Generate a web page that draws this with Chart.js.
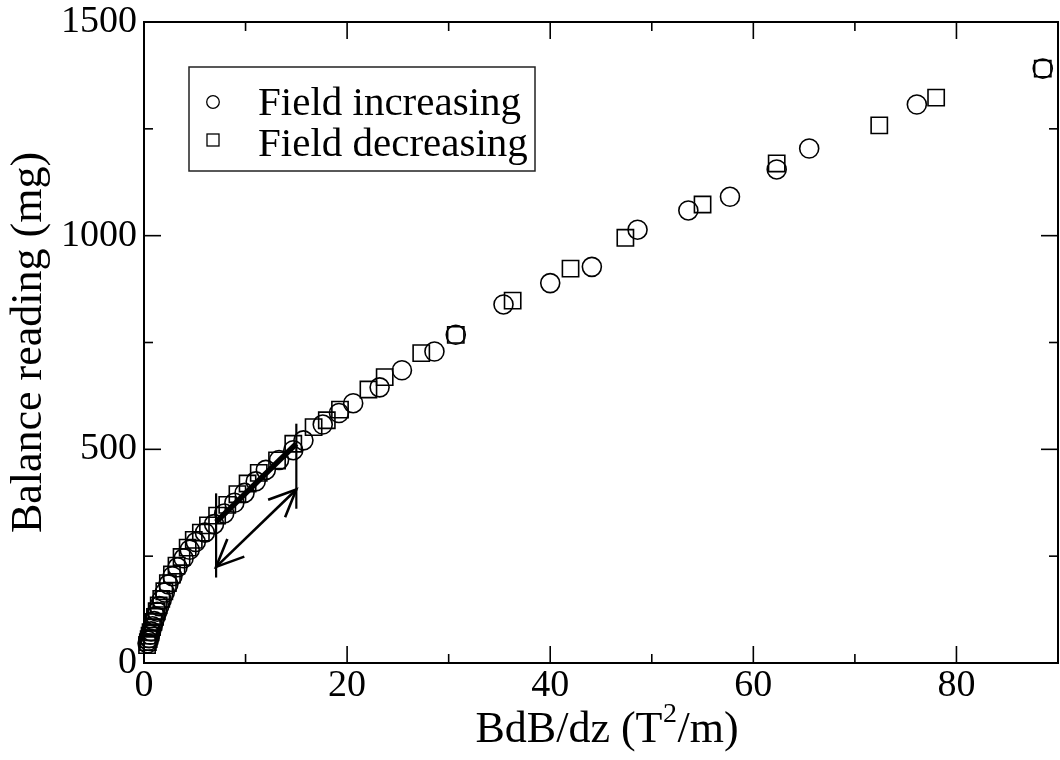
<!DOCTYPE html>
<html><head><meta charset="utf-8">
<script src="https://cdn.jsdelivr.net/npm/chart.js@4"></script>
<style>html,body{margin:0;padding:0;background:#fff}#wrap{width:1060px;height:760px}</style>
</head><body><div id="wrap"><canvas id="c" width="1060" height="760"></canvas></div>
<script>
// Field increasing (circles)
const incX = [0.35,0.42,0.5,0.6,0.7,0.85,1.0,1.15,1.3,1.5,1.75,2.05,2.4,2.8,3.3,3.9,4.5,5.1,6.0,6.9,7.9,8.9,9.9,11.0,12.0,13.3,14.7,15.7,17.6,19.2,20.6,23.2,25.4,28.6,30.7,35.4,40.0,44.1,48.6,53.6,57.7,62.3,65.5,76.1,88.5];
const incY = [46,52,58,66,74,86,98,109,120,133,148,165,184,203,224,245,265,283,305,325,350,375,398,425,452,475,498,521,558,585,608,645,685,729,768,839,889,927,1014,1059,1091,1155,1204,1307,1391];
// Field decreasing (squares)
const decX = [0.3,0.38,0.46,0.55,0.65,0.78,0.92,1.08,1.25,1.45,1.7,2.0,2.35,2.75,3.2,3.7,4.3,4.9,5.6,6.3,7.2,8.2,9.2,10.2,11.3,13.1,14.7,16.7,18.0,19.3,22.1,23.7,27.3,30.7,36.3,42.0,47.4,55.0,62.3,72.4,78.0,88.5];
const decY = [42,49,56,64,72,84,96,108,121,135,150,168,187,207,228,248,270,288,305,322,345,370,395,420,445,474,513,552,568,593,640,669,725,768,848,923,995,1073,1169,1258,1323,1391];
// tick labels
const xTicks = [0,20,40,60,80];
const xMinor = [10,30,50,70];
const yTicks = [0,500,1000,1500];
const yMinor = [250,750,1250];
// annotations
const fitX = [7.1, 15.0], fitY = [330, 513];
const barX = [7.1, 15.0], barLow = [200, 361], barHigh = [397, 560];
const arrX = [7.1, 15.0], arrY = [225, 406];
const legendLabels = ['Field increasing', 'Field decreasing'];
const xTitleParts = ['BdB/dz (T', '2', '/m)'];
const yTitle = 'Balance reading (mg)';

const FONT = "'Liberation Serif', 'Times New Roman', serif";
Chart.defaults.font.family = FONT;
Chart.defaults.color = '#000';

const toPts = (xs, ys) => xs.map((v, i) => ({x: v, y: ys[i]}));

const framePlugin = {
  id: 'frame',
  afterDatasetsDraw(chart) {
    const {ctx, chartArea: a, scales: {x, y}} = chart;
    ctx.save();
    ctx.strokeStyle = '#000';
    ctx.lineCap = 'butt';
    ctx.lineWidth = 1.6;
    const tk = (vals, len) => {
      vals.forEach(v => {
        const px = x.getPixelForValue(v);
        if (px > a.left + 1 && px < a.right - 1) {
          ctx.beginPath(); ctx.moveTo(px, a.bottom); ctx.lineTo(px, a.bottom - len); ctx.stroke();
          ctx.beginPath(); ctx.moveTo(px, a.top); ctx.lineTo(px, a.top + len); ctx.stroke();
        }
      });
    };
    const tky = (vals, len) => {
      vals.forEach(v => {
        const py = y.getPixelForValue(v);
        if (py > a.top + 1 && py < a.bottom - 1) {
          ctx.beginPath(); ctx.moveTo(a.left, py); ctx.lineTo(a.left + len, py); ctx.stroke();
          ctx.beginPath(); ctx.moveTo(a.right, py); ctx.lineTo(a.right - len, py); ctx.stroke();
        }
      });
    };
    tk(xTicks, 17); tk(xMinor, 9);
    tky(yTicks, 17); tky(yMinor, 9);
    ctx.lineWidth = 2;
    ctx.strokeRect(a.left, a.top, a.right - a.left, a.bottom - a.top);

    // fit line
    ctx.lineWidth = 5.5;
    ctx.beginPath();
    ctx.moveTo(x.getPixelForValue(fitX[0]), y.getPixelForValue(fitY[0]));
    ctx.lineTo(x.getPixelForValue(fitX[1]), y.getPixelForValue(fitY[1]));
    ctx.stroke();
    // vertical bars
    ctx.lineWidth = 2.2;
    for (let i = 0; i < barX.length; i++) {
      const px = x.getPixelForValue(barX[i]);
      ctx.beginPath();
      ctx.moveTo(px, y.getPixelForValue(barLow[i]));
      ctx.lineTo(px, y.getPixelForValue(barHigh[i]));
      ctx.stroke();
    }
    // double arrow
    ctx.lineWidth = 2.6;
    const x0 = x.getPixelForValue(arrX[0]), y0 = y.getPixelForValue(arrY[0]);
    const x1 = x.getPixelForValue(arrX[1]), y1 = y.getPixelForValue(arrY[1]);
    ctx.beginPath(); ctx.moveTo(x0, y0); ctx.lineTo(x1, y1); ctx.stroke();
    const head = (tx, ty, fx, fy) => {
      const ang = Math.atan2(fy - ty, fx - tx);
      const L = 30, s = 0.42;
      ctx.beginPath();
      ctx.moveTo(tx + L * Math.cos(ang + s), ty + L * Math.sin(ang + s));
      ctx.lineTo(tx, ty);
      ctx.lineTo(tx + L * Math.cos(ang - s), ty + L * Math.sin(ang - s));
      ctx.stroke();
    };
    head(x0, y0, x1, y1);
    head(x1, y1, x0, y0);

    // legend
    const lx = 189, ly = 67, lw = 346, lh = 104;
    ctx.fillStyle = '#fff';
    ctx.fillRect(lx, ly, lw, lh);
    ctx.lineWidth = 1.5;
    ctx.strokeStyle = '#222';
    ctx.strokeRect(lx, ly, lw, lh);
    ctx.strokeStyle = '#000';
    ctx.lineWidth = 1.3;
    ctx.beginPath(); ctx.arc(213, 102, 6.3, 0, Math.PI * 2); ctx.stroke();
    ctx.strokeRect(207, 134, 12, 12);
    ctx.fillStyle = '#000';
    ctx.font = "41px " + FONT;
    ctx.textBaseline = 'alphabetic';
    ctx.textAlign = 'left';
    ctx.fillText(legendLabels[0], 258, 115);
    ctx.fillText(legendLabels[1], 258, 156);

    // x title with superscript
    const big = "44px " + FONT, small = "28px " + FONT;
    ctx.font = big; const w0 = ctx.measureText(xTitleParts[0]).width, w2 = ctx.measureText(xTitleParts[2]).width;
    ctx.font = small; const w1 = ctx.measureText(xTitleParts[1]).width + 1;
    const cx = (a.left + a.right) / 2 + 6;
    let sx = cx - (w0 + w1 + w2) / 2;
    const base = 742;
    ctx.font = big; ctx.fillText(xTitleParts[0], sx, base);
    ctx.font = small; ctx.fillText(xTitleParts[1], sx + w0 + 0.5, base - 20);
    ctx.font = big; ctx.fillText(xTitleParts[2], sx + w0 + w1, base);
    ctx.restore();
  }
};

new Chart(document.getElementById('c'), {
  type: 'scatter',
  data: {
    datasets: [
      {label: legendLabels[0], data: toPts(incX, incY), pointStyle: 'circle', pointRadius: 9.5,
       borderColor: '#000', backgroundColor: 'rgba(0,0,0,0)', borderWidth: 1.6, pointHoverRadius: 9.5, clip: false},
      {label: legendLabels[1], data: toPts(decX, decY), pointStyle: 'rect', pointRadius: 11.5,
       borderColor: '#000', backgroundColor: 'rgba(0,0,0,0)', borderWidth: 1.6, pointHoverRadius: 11.5, clip: false}
    ]
  },
  options: {
    responsive: false,
    animation: false,
    events: [],
    layout: {autoPadding: false, padding: {top: 22, right: 2, left: 0, bottom: 0}},
    plugins: {legend: {display: false}, tooltip: {enabled: false}},
    scales: {
      x: {
        type: 'linear', min: 0, max: 90,
        grid: {display: false, drawTicks: false},
        border: {display: false},
        afterBuildTicks: s => { s.ticks = xTicks.map(v => ({value: v})); },
        afterFit: s => { s.height = 97; s.paddingLeft = 0; s.paddingRight = 0; },
        ticks: {font: {size: 38, lineHeight: 1}, padding: 4, color: '#000', maxRotation: 0, autoSkip: false,
                callback: v => String(v)},
        title: {display: false}
      },
      y: {
        type: 'linear', min: 0, max: 1500,
        grid: {display: false, drawTicks: false},
        border: {display: false},
        afterBuildTicks: s => { s.ticks = yTicks.map(v => ({value: v})); },
        afterFit: s => { s.width = 144; s.paddingTop = 0; s.paddingBottom = 0; },
        ticks: {font: {size: 38, lineHeight: 1}, padding: 7, color: '#000', autoSkip: false,
                callback: v => String(v)},
        title: {display: true, text: yTitle, font: {size: 44, lineHeight: 1}, padding: {top: 7, bottom: 0}, color: '#000'}
      }
    }
  },
  plugins: [framePlugin]
});
</script>
</body></html>
